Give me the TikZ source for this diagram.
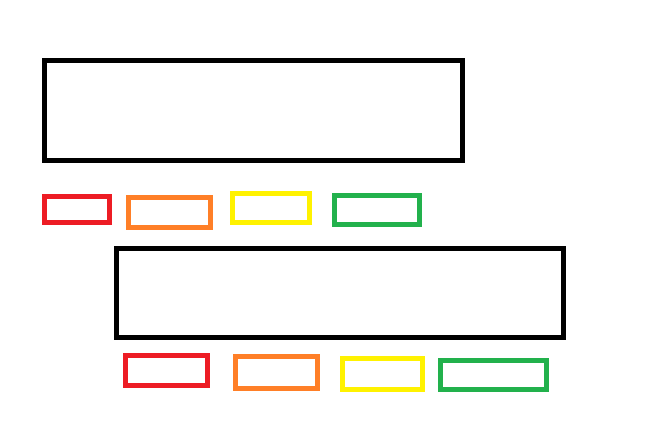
\documentclass[tikz,border=0pt]{standalone}
\usetikzlibrary{positioning}
\definecolor{paintred}{HTML}{ED1C24}
\definecolor{paintorange}{HTML}{FF7F27}
\definecolor{paintyellow}{HTML}{FFF200}
\definecolor{paintgreen}{HTML}{22B14C}
\tikzset{
  panel/.style={draw=black, line width=3.75pt, inner sep=0pt},
  tab/.style={draw=#1, line width=3.5pt, inner sep=0pt}
}
\begin{document}
\begin{tikzpicture}[x=0.75pt,y=-0.75pt]
   \useasboundingbox (0,0) rectangle (663,430);
   % first panel and its tabs
   \node[panel, minimum width=313.5pt, minimum height=74.9pt] (panA) at (253.5,110.25) {};
   \node[tab=paintred, minimum width=48.9pt, minimum height=19.5pt] (redA) at (76.9,209.5) {};
   \node[tab=paintorange, minimum width=61.5pt, minimum height=22.3pt] (orangeA) at (169.5,212.35) {};
   \node[tab=paintyellow, minimum width=57.75pt, minimum height=21.5pt] (yellowA) at (271,207.85) {};
   \node[tab=paintgreen, minimum width=63.75pt, minimum height=21.75pt] (greenA) at (377,210) {};
   % second panel and its tabs
   \node[panel, minimum width=335.25pt, minimum height=67pt] (panB) at (340,292.85) {};
   \node[tab=paintred, minimum width=61.5pt, minimum height=22.5pt] (redB) at (166.5,370.5) {};
   \node[tab=paintorange, minimum width=61.5pt, minimum height=24pt] (orangeB) at (276.5,372.5) {};
   \node[tab=paintyellow, minimum width=60pt, minimum height=23.25pt] (yellowB) at (382.5,374) {};
   \node[tab=paintgreen, minimum width=79.5pt, minimum height=21.75pt] (greenB) at (493.5,375) {};
\end{tikzpicture}
\end{document}
